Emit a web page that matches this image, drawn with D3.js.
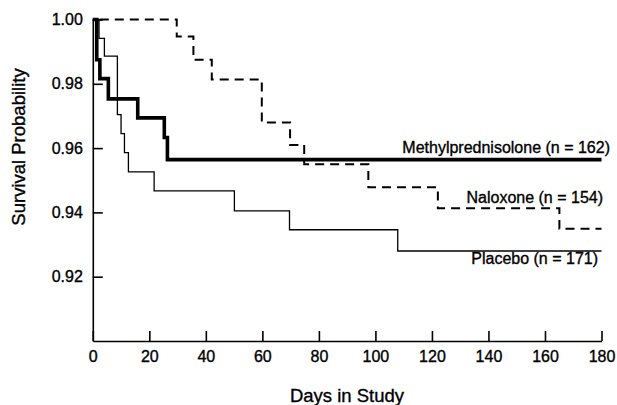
<!DOCTYPE html>
<html>
<head>
<meta charset="utf-8">
<script src="https://cdn.jsdelivr.net/npm/d3@7"></script>
<style>
  body { margin: 0; background: #fff; }
  svg { display: block; font-family: "Liberation Sans", Arial, sans-serif; }
  svg text { stroke: #000; stroke-width: 0.35px; }
</style>
</head>
<body>
<svg width="617" height="405"></svg>
<script>
// Kaplan-Meier steps (day, survival probability)
var methylDays = [0, 1.4, 2.5, 5.5, 15.9, 25.3, 26.4, 180];
var methylSurv = [1.0, 0.9875, 0.9816, 0.9753, 0.9694, 0.9633, 0.9564, 0.9564];

var naloxDays = [0, 29.7, 35.6, 42.1, 59.8, 69.8, 74.8, 97.5, 122.1, 165.1, 180];
var naloxSurv = [1.0, 0.9947, 0.9875, 0.9813, 0.968, 0.961, 0.955, 0.9478, 0.9413, 0.9349, 0.9349];

var placeboDays = [0, 2.2, 4.1, 8.7, 10.0, 11.2, 12.6, 21.7, 50.1, 69.6, 107.9, 180];
var placeboSurv = [1.0, 0.9941, 0.9886, 0.9704, 0.9645, 0.9586, 0.9526, 0.9467, 0.9405, 0.9346, 0.928, 0.928];

var xTicks = [0, 20, 40, 60, 80, 100, 120, 140, 160, 180];
var yTicks = [0.92, 0.94, 0.96, 0.98, 1.0];

var seriesLabels = ["Methylprednisolone (n = 162)", "Naloxone (n = 154)", "Placebo (n = 171)"];

var svg = d3.select("svg");

var x = d3.scaleLinear().domain([0, 180]).range([92.8, 601.5]);
var y = d3.scaleLinear().domain([0.9, 1.0]).range([341, 19.5]);

// axes, ticks pointing inward
var xAxis = svg.append("g")
  .attr("transform", "translate(0,341)")
  .call(d3.axisBottom(x).tickValues(xTicks).tickSizeInner(-10).tickSizeOuter(0).tickPadding(9.5).tickFormat(d3.format("d")));

var yAxis = svg.append("g")
  .attr("transform", "translate(92.8,0)")
  .call(d3.axisLeft(y).tickValues(yTicks).tickSizeInner(-10).tickSizeOuter(0).tickPadding(10).tickFormat(d3.format(".2f")));

[xAxis, yAxis].forEach(function (g) {
  g.attr("font-family", null).attr("font-size", null);
  g.select(".domain").attr("stroke", "#000").attr("stroke-width", 1.6);
  g.selectAll(".tick line").attr("stroke", "#000").attr("stroke-width", 1.6);
  g.selectAll(".tick text").attr("fill", "#000").style("font-size", "16px");
});

var line = d3.line()
  .x(function (d) { return x(d[0]); })
  .y(function (d) { return y(d[1]); })
  .curve(d3.curveStepAfter);

function pairs(days, surv) {
  return days.map(function (d, i) { return [d, surv[i]]; });
}

// placebo: thin solid
svg.append("path")
  .datum(pairs(placeboDays, placeboSurv))
  .attr("d", line)
  .attr("fill", "none")
  .attr("stroke", "#000")
  .attr("stroke-width", 1.3);

// naloxone: dashed
svg.append("path")
  .datum(pairs(naloxDays, naloxSurv))
  .attr("d", line)
  .attr("fill", "none")
  .attr("stroke", "#000")
  .attr("stroke-width", 2)
  .attr("stroke-dasharray", "9,6")
  .attr("stroke-dashoffset", -7);

// methylprednisolone: thick solid
svg.append("path")
  .datum(pairs(methylDays, methylSurv))
  .attr("d", line)
  .attr("fill", "none")
  .attr("stroke", "#000")
  .attr("stroke-width", 3.6);

// series labels
var labelPos = [[610, 153], [603, 203], [598, 264]];
svg.selectAll(".series-label")
  .data(seriesLabels)
  .enter()
  .append("text")
  .attr("class", "series-label")
  .attr("x", function (d, i) { return labelPos[i][0]; })
  .attr("y", function (d, i) { return labelPos[i][1]; })
  .attr("text-anchor", "end")
  .attr("font-size", "16px")
  .attr("fill", "#000")
  .text(function (d) { return d; });

// axis titles
svg.append("text")
  .attr("x", 347)
  .attr("y", 402)
  .attr("text-anchor", "middle")
  .attr("font-size", "18.5px")
  .text("Days in Study");

svg.append("text")
  .attr("transform", "translate(25,147) rotate(-90)")
  .attr("text-anchor", "middle")
  .attr("font-size", "18.5px")
  .text("Survival Probability");
</script>
</body>
</html>
